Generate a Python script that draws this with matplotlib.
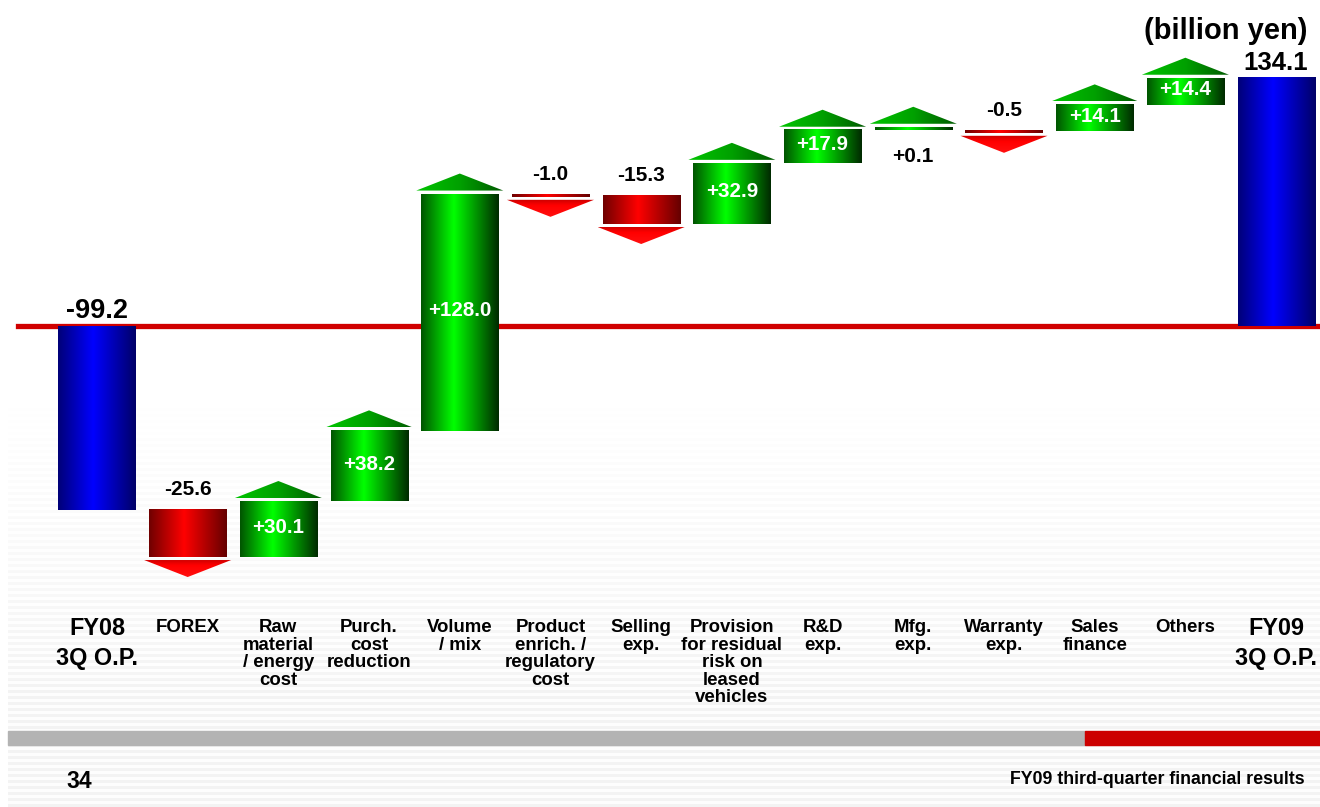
import numpy as np
import matplotlib.pyplot as plt
from matplotlib.colors import LinearSegmentedColormap
from matplotlib.patches import Polygon, Rectangle

plt.rcParams['font.family'] = ['Liberation Sans', 'DejaVu Sans']

# --- data ---
categories = ["FY08\n3Q O.P.", "FOREX", "Raw\nmaterial\n/ energy\ncost", "Purch.\ncost\nreduction",
              "Volume\n/ mix", "Product\nenrich. /\nregulatory\ncost", "Selling\nexp.",
              "Provision\nfor residual\nrisk on\nleased\nvehicles", "R&D\nexp.", "Mfg.\nexp.",
              "Warranty\nexp.", "Sales\nfinance", "Others", "FY09\n3Q O.P."]
start_value = -99.2
changes = [-25.6, 30.1, 38.2, 128.0, -1.0, -15.3, 32.9, 17.9, 0.1, -0.5, 14.1, 14.4]
end_value = 134.1
change_labels = ["-25.6", "+30.1", "+38.2", "+128.0", "-1.0", "-15.3", "+32.9",
                 "+17.9", "+0.1", "-0.5", "+14.1", "+14.4"]

# --- colour maps ---
green = LinearSegmentedColormap.from_list("g", [(0, "#005500"), (0.42, "#00ff00"), (1, "#002a00")])
red = LinearSegmentedColormap.from_list("r", [(0, "#700000"), (0.45, "#ff0000"), (1, "#650000")])
blue = LinearSegmentedColormap.from_list("b", [(0, "#000078"), (0.45, "#0000ff"), (1, "#000068")])
green_tri = LinearSegmentedColormap.from_list("gt", [(0, "#00c400"), (0.5, "#00a000"), (1, "#005800")])
red_tri = LinearSegmentedColormap.from_list("rt", [(0, "#c80000"), (0.35, "#ff0000"), (1, "#ff1010")])

fig = plt.figure(figsize=(13.2, 8.07), dpi=100)

# striped slide background
bg = fig.add_axes([8 / 1320, 0, 1 - 8 / 1320, 1])
rows = np.arange(807)
fade = np.clip((rows - 380) / 300, 0, 1)
stripe = (rows % 6 < 3).astype(float)
shade = 1 - 0.035 * fade * stripe - 0.008 * fade
bg.imshow(shade[:, None], cmap="gray", vmin=0, vmax=1, aspect="auto", extent=[0, 1, 0, 1])
bg.set_xlim(0, 1)
bg.set_ylim(0, 1)
bg.axis("off")

ax = fig.add_axes([0, 0, 1, 1])
ax.patch.set_alpha(0)
ax.axis("off")

XL = (-1.069, 13.484)
YL = (-260.0, 176.2)
W = 0.85
TRI_W = 0.96
TRI_H = 9.2
GAP = 1.7
MIN_H = 1.6

grad = np.linspace(0, 1, 200)[None, :]


def grad_rect(x0, x1, y0, y1, cmap, z=3):
    ax.imshow(grad, cmap=cmap, extent=[x0, x1, y0, y1], aspect="auto", zorder=z,
              interpolation="bilinear")


def grad_tri(pts, cmap, vertical=False, z=3):
    poly = Polygon(pts, closed=True, facecolor="none", edgecolor="none")
    ax.add_patch(poly)
    xs = [p[0] for p in pts]
    ys = [p[1] for p in pts]
    arr = np.linspace(0, 1, 200)[:, None] if vertical else grad
    im = ax.imshow(arr, cmap=cmap, extent=[min(xs), max(xs), min(ys), max(ys)],
                   aspect="auto", zorder=z, interpolation="bilinear", origin="upper")
    im.set_clip_path(poly)


# zero line
ax.axhline(0, xmin=18 / 1320, xmax=1, color="#d00000", lw=3.8, zorder=1)

# start / end bars
grad_rect(-W / 2, W / 2, start_value, 0, blue)
ax.text(0, 1.0, f"{start_value:.1f}", ha="center", va="bottom", fontsize=19.5, fontweight="bold")
n = len(categories) - 1
grad_rect(n - W / 2, n + W / 2, 0, end_value, blue)
ax.text(n, end_value + 1.5, f"{end_value:.1f}", ha="center", va="bottom", fontsize=18.5,
        fontweight="bold")

level = start_value
for i, (d, lab) in enumerate(zip(changes, change_labels), start=1):
    lo, hi = min(level, level + d), max(level, level + d)
    if hi - lo < MIN_H:
        if d > 0:
            hi = lo + MIN_H
        else:
            lo = hi - MIN_H
    if d > 0:
        grad_rect(i - W / 2, i + W / 2, lo, hi, green)
        b = hi + GAP
        grad_tri([(i - TRI_W / 2, b), (i + TRI_W / 2, b), (i, b + TRI_H)], green_tri)
        if hi - lo > 10:
            ax.text(i, (lo + hi) / 2 + 0.8, lab, ha="center", va="center", color="white",
                    fontsize=14.8, fontweight="bold", zorder=5)
        else:
            ax.text(i, lo - 9.5, lab, ha="center", va="top", fontsize=15, fontweight="bold")
    else:
        grad_rect(i - W / 2, i + W / 2, lo, hi, red)
        b = lo - GAP
        grad_tri([(i - TRI_W / 2, b), (i + TRI_W / 2, b), (i, b - TRI_H)], red_tri, vertical=True)
        ax.text(i, hi + 5.5, lab, ha="center", va="bottom", fontsize=15, fontweight="bold")
    level += d

# category labels
for i, c in enumerate(categories):
    big = i in (0, n)
    ax.text(i, -157.5 if big else -158.5, c, ha="center", va="top",
            fontsize=16.8 if big else 13.4, fontweight="bold",
            linespacing=1.36 if big else 1.04)

ax.set_xlim(*XL)
ax.set_ylim(*YL)

# unit label
fig.text(1308 / 1320, 1 - 31 / 807, "(billion yen)", ha="right", va="center",
         fontsize=21, fontweight="bold")

# footer bars and text
fig.patches.append(Rectangle((8 / 1320, 62 / 807), 1077 / 1320, 14 / 807,
                             transform=fig.transFigure, color="#b3b3b3"))
fig.patches.append(Rectangle((1085 / 1320, 62 / 807), 235 / 1320, 14 / 807,
                             transform=fig.transFigure, color="#cc0000"))
fig.text(66 / 1320, 1 - 781 / 807, "34", ha="left", va="center", fontsize=16.5, fontweight="bold")
fig.text(1305 / 1320, 1 - 779 / 807, "FY09 third-quarter financial results", ha="right",
         va="center", fontsize=12.8, fontweight="bold")

fig.savefig("out.png", dpi=100)
